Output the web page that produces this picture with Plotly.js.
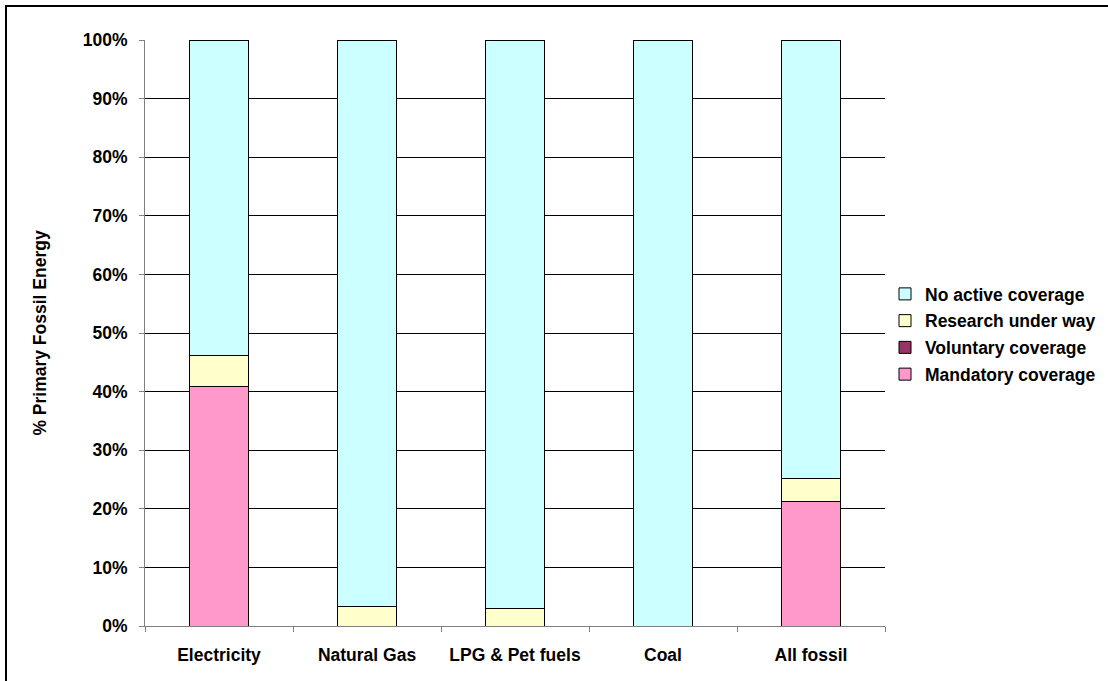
<!DOCTYPE html>
<html>
<head>
<meta charset="utf-8">
<script src="https://cdn.plot.ly/plotly-3.0.1.min.js"></script>
<style>
html,body{margin:0;padding:0;background:#fff;overflow:hidden;width:1108px;height:681px;}
#chart{width:1108px;height:681px;}
#frame{position:absolute;left:5px;top:5px;width:1200px;height:800px;border-left:2px solid #000;border-top:2px solid #000;pointer-events:none;}
</style>
</head>
<body>
<div id="chart"></div>
<div id="frame"></div>
<script>
const categories = ["Electricity", "Natural Gas", "LPG & Pet fuels", "Coal", "All fossil"];
const mandatory = [0.408, 0, 0, 0, 0.213];
const voluntary = [0, 0, 0, 0, 0];
const research  = [0.054, 0.034, 0.030, 0, 0.039];
const noActive  = [0.538, 0.966, 0.970, 1.0, 0.748];
const seriesNames = ["Mandatory coverage", "Voluntary coverage", "Research under way", "No active coverage"];
const seriesColors = ["#FF99CC", "#993366", "#FFFFCC", "#CCFFFF"];
const seriesValues = [mandatory, voluntary, research, noActive];

const traces = seriesValues.map((vals, i) => ({
  type: "bar",
  name: seriesNames[i],
  legendgroup: "g" + i,
  legendrank: 10 - i,
  x: categories,
  y: vals,
  marker: {color: seriesColors[i], line: {color: "#000", width: 1}},
  hoverinfo: "x+y+name"
}));

const FAM = "Liberation Sans, Arial, sans-serif";
const FS = 17.5;

const layout = {
  width: 1108, height: 681,
  margin: {l: 145, r: 223, t: 40, b: 55},
  paper_bgcolor: "#fff",
  plot_bgcolor: "#fff",
  barmode: "stack",
  bargap: 0.595,
  font: {family: FAM, size: FS, color: "#000", weight: "bold"},
  showlegend: true,
  legend: {
    xref: "container", yref: "container",
    x: 885 / 1108, y: 1 - 334 / 681, xanchor: "left", yanchor: "middle",
    traceorder: "grouped",
    font: {family: FAM, size: FS, color: "#000", weight: "bold"},
    itemwidth: 30, tracegroupgap: 1
  },
  xaxis: {
    type: "category",
    showline: true, linecolor: "#808080", linewidth: 1,
    ticks: "outside", tickson: "boundaries", ticklen: 5, tickcolor: "#808080",
    ticklabelstandoff: 13,
    showgrid: false,
    tickfont: {family: FAM, size: FS, color: "#000", weight: "bold"}
  },
  yaxis: {
    range: [0, 1], dtick: 0.1, tickformat: ".0%",
    showline: true, linecolor: "#808080", linewidth: 1,
    ticks: "outside", ticklen: 5, tickcolor: "#808080",
    ticklabelstandoff: 8,
    showgrid: true, gridcolor: "#000", gridwidth: 1,
    zeroline: false,
    tickfont: {family: FAM, size: FS, color: "#000", weight: "bold"},
    title: {text: "% Primary Fossil Energy", standoff: 31,
            font: {family: FAM, size: FS, color: "#000", weight: "bold"}}
  }
};

Plotly.newPlot("chart", traces, layout, {displayModeBar: false, staticPlot: true});
</script>
</body>
</html>
